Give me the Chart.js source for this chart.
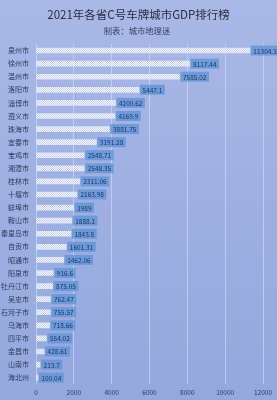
<!DOCTYPE html>
<html><head><meta charset="utf-8">
<script src="https://cdn.jsdelivr.net/npm/chart.js@4"></script>
<style>
html,body{margin:0;padding:0;}
body{width:277px;height:400px;background:linear-gradient(#a8b8e7,#94a8dd);overflow:hidden;}
#wrap{width:277px;height:400px;position:relative;}
</style></head><body>
<div id="wrap"><canvas id="c" width="277" height="400"></canvas></div>
<script>
const titleText = "2021年各省C号车牌城市GDP排行榜";
const subtitleText = "制表：城市地理迷";
const cities = ["泉州市","徐州市","温州市","洛阳市","淄博市","遵义市","珠海市","宜春市","宝鸡市","湘潭市","桂林市","十堰市","蚌埠市","鞍山市","秦皇岛市","自贡市","昭通市","阳泉市","牡丹江市","吴忠市","石河子市","乌海市","四平市","金昌市","山南市","海北州"];
const gdp = [11304.17,8117.44,7585.02,5447.1,4200.62,4169.9,3881.75,3191.28,2548.71,2548.35,2311.06,2163.98,1989,1888.1,1843.8,1601.31,1462.06,916.6,875.05,762.47,755.57,718.66,554.02,428.61,213.7,100.04];
const xTicks = [0,2000,4000,6000,8000,10000,12000];

const FONT = "'Noto Sans CJK SC','Noto Sans',sans-serif";

function makePattern(){
  const p = document.createElement('canvas');
  p.width = 2; p.height = 2;
  const g = p.getContext('2d');
  g.fillStyle = '#f6f8fe'; g.fillRect(0,0,2,2);
  g.fillStyle = '#c3d0f0'; g.fillRect(0,0,1,1); g.fillRect(1,1,1,1);
  return document.getElementById('c').getContext('2d').createPattern(p,'repeat');
}

const headerPlugin = {
  id:'header',
  afterDraw(chart){
    const ctx = chart.ctx;
    ctx.save();
    ctx.textAlign='center'; ctx.textBaseline='middle';
    ctx.fillStyle='#2b2f3f';
    ctx.font = "11.5px " + FONT;
    ctx.fillText(titleText, 138.5, 15);
    ctx.fillStyle='#3a4160';
    ctx.font = "8.3px " + FONT;
    ctx.fillText(subtitleText, 137, 31);
    ctx.restore();
  }
};

const labelPlugin = {
  id:'vlabels',
  afterDatasetsDraw(chart){
    const ctx = chart.ctx;
    const meta = chart.getDatasetMeta(0);
    ctx.save();
    ctx.font = "6.5px " + FONT;
    ctx.textBaseline='middle';
    meta.data.forEach((bar,i)=>{
      const txt = String(gdp[i]);
      const w = ctx.measureText(txt).width + 5;
      const x0 = bar.x + 1;
      const y = bar.y;
      ctx.fillStyle = 'rgba(100,150,215,0.85)';
      ctx.fillRect(x0, y-5, w, 10);
      ctx.fillStyle = '#1d3766';
      ctx.textAlign='left';
      ctx.fillText(txt, x0+2.5, y+0.5);
    });
    ctx.restore();
  }
};

new Chart(document.getElementById('c'), {
  type:'bar',
  data:{ labels: cities, datasets:[{ data: gdp, backgroundColor: makePattern(), borderWidth:0, barThickness:5 }]},
  options:{
    indexAxis:'y',
    responsive:false,
    animation:false,
    events:[],
    layout:{ padding:{ top:44, right:14, bottom:0, left:0 } },
    plugins:{ legend:{display:false}, tooltip:{enabled:false}, title:{display:false} },
    scales:{
      x:{
        min:0, max:12000,
        afterBuildTicks(axis){ axis.ticks = xTicks.map(v=>({value:v})); },
        grid:{ color:'rgba(220,228,250,0.55)', lineWidth:1, drawTicks:false },
        border:{ display:false },
        ticks:{ color:'#2f3a5c', font:{ size:6.5, family:FONT }, padding:4, callback:(v)=>String(v) }
      },
      y:{
        grid:{ display:false, drawTicks:false },
        border:{ display:false },
        afterFit(axis){ axis.width = 36; },
        ticks:{ color:'#2f3a5c', font:{ size:7, family:FONT }, padding:7 }
      }
    }
  },
  plugins:[headerPlugin, labelPlugin]
});
</script>
</body></html>
